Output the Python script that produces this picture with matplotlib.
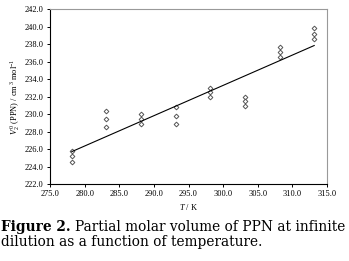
import numpy as np
import matplotlib.pyplot as plt

plt.rcParams['font.family'] = ['Liberation Serif', 'DejaVu Serif']
plt.rcParams['mathtext.fontset'] = 'custom'
plt.rcParams['mathtext.rm'] = 'Liberation Serif'
plt.rcParams['mathtext.it'] = 'Liberation Serif:italic'

temps = [278.15, 283.15, 288.15, 293.15, 298.15, 303.15, 308.15, 313.15]
run1 = [225.8, 230.3, 230.0, 230.8, 233.0, 232.0, 237.7, 239.8]
run2 = [225.2, 229.4, 229.4, 229.8, 232.5, 231.5, 237.1, 239.2]
run3 = [224.5, 228.5, 228.9, 228.9, 232.0, 230.9, 236.5, 238.6]

x_all = np.array(temps * 3)
y_all = np.array(run1 + run2 + run3)
slope, icpt = np.polyfit(x_all, y_all, 1)

fig = plt.figure(figsize=(3.49, 2.61), dpi=100)
ax = fig.add_axes([50 / 349, 1 - 184 / 261, 277 / 349, 175 / 261])

for run in (run1, run2, run3):
    ax.plot(temps, run, linestyle='none', marker='D', markersize=2.4,
            markerfacecolor='white', markeredgecolor='#555555', markeredgewidth=0.7)

xl = np.array([temps[0], temps[-1]])
ax.plot(xl, slope * xl + icpt, color='black', linewidth=0.8)

ax.set_xlim(275, 315)
ax.set_ylim(222, 242)
ax.set_xticks(np.arange(275, 316, 5))
ax.set_yticks(np.arange(222, 243, 2))
ax.xaxis.set_major_formatter(plt.FormatStrFormatter('%.1f'))
ax.yaxis.set_major_formatter(plt.FormatStrFormatter('%.1f'))
ax.tick_params(labelsize=6, length=2.5, width=0.7, pad=2)
ax.spines['top'].set_color('#999999')
ax.spines['right'].set_color('#999999')
ax.spines['left'].set_linewidth(0.8)
ax.spines['bottom'].set_linewidth(0.8)

ax.set_xlabel('$T$ / K', fontsize=6, labelpad=3)
ax.set_ylabel('$V^{\\,0}_{\\,2}$ (PPN) / cm$^{\\,3}$ mol$^{-1}$', fontsize=6, labelpad=2)

# caption: bold "Figure 2." followed by plain text, sized to span the figure width
cap_font = ['DejaVu Serif']
r = fig.canvas.get_renderer()
y1 = 1 - 231 / 261
y2 = 1 - 246 / 261
x0 = 0.004


def caption_width(size):
    a = fig.text(0, 0, 'Figure 2.', fontsize=size, fontweight='bold', family=cap_font)
    b = fig.text(0, 0, 'Partial molar volume of PPN at infinite', fontsize=size, family=cap_font)
    wa = a.get_window_extent(r).width
    wb = b.get_window_extent(r).width
    a.remove()
    b.remove()
    return wa, wb


size = 9.0
for _ in range(4):
    wa, wb = caption_width(size)
    size = size * 345 / (wa + 4 + wb)
wa, wb = caption_width(size)

fig.text(x0, y1, 'Figure 2.', fontsize=size, fontweight='bold', family=cap_font, va='baseline')
fig.text(x0 + (wa + 4) / 349, y1, 'Partial molar volume of PPN at infinite',
         fontsize=size, family=cap_font, va='baseline')
fig.text(x0, y2, 'dilution as a function of temperature.', fontsize=size, family=cap_font, va='baseline')

fig.savefig('out.png', dpi=100)
